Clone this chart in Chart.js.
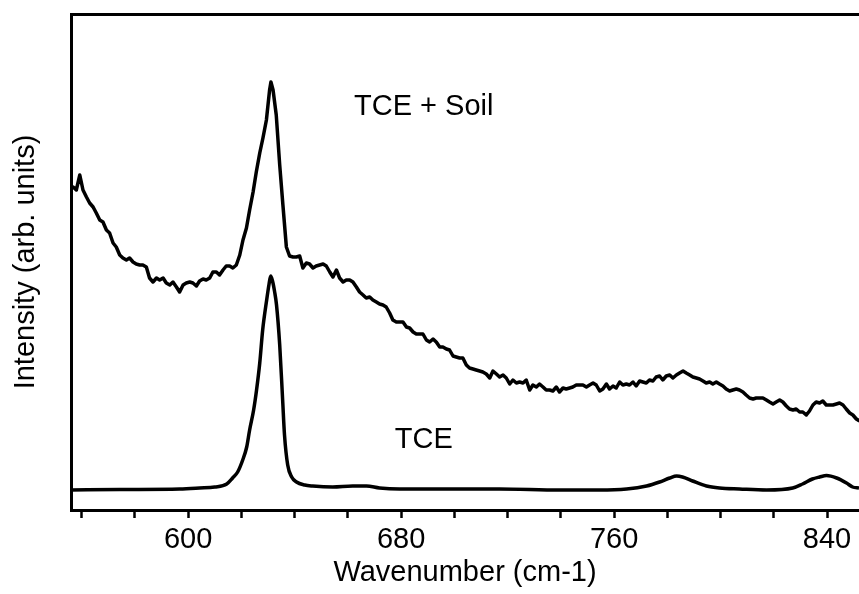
<!DOCTYPE html>
<html>
<head>
<title>TCE Raman spectra</title>
<script src="https://cdn.jsdelivr.net/npm/chart.js"></script>
<style>
  body { margin: 0; background: #fff; overflow: hidden; }
</style>
</head>
<body>
<canvas id="spectrum" width="859" height="594"></canvas>
<script>
// wavenumber (cm-1) and intensity (arb. units)
const soilWn = [
  556.0, 556.8, 558.0, 559.3, 560.5, 561.8, 563.0, 564.3, 565.5, 566.8,
  568.0, 569.3, 570.5, 571.8, 573.0, 574.3, 575.5, 576.8, 578.0, 579.3,
  580.5, 581.8, 583.0, 584.3, 585.5, 586.8, 588.1, 589.3, 590.6, 591.8,
  593.1, 594.3, 595.6, 596.8, 598.1, 599.3, 600.6, 601.8, 603.1, 604.3,
  605.6, 606.8, 608.1, 609.3, 610.6, 611.8, 613.1, 614.3, 615.6, 616.8,
  618.1, 619.4, 620.6, 621.9, 623.1, 624.4, 625.6, 626.9, 628.1, 629.4,
  630.6, 631.1, 631.9, 633.1, 634.4, 635.6, 636.9, 638.1, 639.4, 640.6,
  641.9, 643.1, 644.4, 645.6, 646.9, 648.1, 649.4, 650.7, 651.9, 653.2,
  654.4, 655.7, 656.9, 658.2, 659.4, 660.7, 661.9, 663.2, 664.4, 665.7,
  666.9, 668.2, 669.4, 670.7, 671.9, 673.2, 674.4, 675.7, 676.9, 678.2,
  679.4, 680.7, 682.0, 683.2, 684.5, 685.7, 687.0, 688.2, 689.5, 690.7,
  692.0, 693.2, 694.5, 695.7, 697.0, 698.2, 699.5, 700.7, 702.0, 703.2,
  704.5, 705.7, 707.0, 708.2, 709.5, 710.7, 712.0, 713.3, 714.5, 715.8,
  717.0, 718.3, 719.5, 720.8, 722.0, 723.3, 724.5, 725.8, 727.0, 728.3,
  729.5, 730.8, 732.0, 733.3, 734.5, 735.8, 737.0, 738.3, 739.5, 740.8,
  742.0, 743.3, 744.5, 745.8, 747.0, 748.3, 749.6, 750.8, 752.1, 753.3,
  754.6, 755.8, 757.1, 758.3, 759.6, 760.8, 762.1, 763.3, 764.6, 765.8,
  767.1, 768.3, 769.6, 770.8, 772.1, 773.3, 774.6, 775.8, 777.1, 778.3,
  779.6, 780.9, 782.1, 783.4, 784.6, 785.9, 787.1, 788.4, 789.6, 790.9,
  792.1, 793.4, 794.6, 795.9, 797.1, 798.4, 799.6, 800.9, 802.1, 803.4,
  804.6, 805.9, 807.1, 808.4, 809.6, 810.9, 812.2, 813.4, 814.7, 815.9,
  817.2, 818.4, 819.7, 820.9, 822.2, 823.4, 824.7, 825.9, 827.2, 828.4,
  829.7, 830.9, 832.2, 833.4, 834.7, 835.9, 837.2, 838.4, 839.7, 840.9,
  842.2, 843.5, 844.7, 846.0, 847.2, 848.5, 849.7, 851.0, 852.2
];
const soilInt = [
  64.4, 64.6, 64.0, 67.0, 64.0, 62.6, 61.4, 60.6, 59.4, 58.0,
  57.6, 56.0, 55.4, 53.4, 52.6, 51.0, 50.4, 50.0, 50.4, 49.6,
  49.2, 49.0, 49.0, 48.6, 46.4, 45.6, 46.4, 46.0, 46.4, 45.4,
  45.0, 45.6, 44.6, 43.6, 45.0, 45.4, 45.6, 45.4, 44.8, 45.8,
  46.2, 46.0, 46.4, 47.6, 47.6, 47.0, 48.0, 48.8, 48.8, 48.4,
  49.0, 51.0, 54.0, 56.4, 60.0, 63.6, 67.6, 71.4, 74.4, 78.0,
  84.0, 85.6, 84.0, 79.0, 69.0, 61.0, 52.6, 50.8, 50.6, 50.6,
  50.8, 48.4, 49.4, 49.2, 48.4, 48.8, 49.0, 49.2, 48.8, 47.6,
  46.6, 48.0, 46.4, 45.6, 46.0, 46.0, 45.6, 44.6, 43.6, 43.0,
  42.4, 42.6, 42.0, 41.6, 41.2, 41.0, 40.6, 39.4, 38.0, 37.6,
  37.6, 37.6, 36.6, 36.4, 35.6, 35.2, 35.2, 35.2, 34.0, 33.6,
  34.2, 33.6, 32.6, 32.6, 32.2, 32.0, 30.8, 30.6, 30.4, 30.4,
  29.0, 28.4, 28.2, 28.0, 27.8, 27.6, 27.2, 26.4, 27.8, 27.2,
  26.6, 27.0, 26.4, 25.2, 26.0, 25.4, 25.6, 25.4, 26.0, 24.0,
  25.0, 24.6, 25.2, 24.6, 24.0, 24.0, 23.8, 24.6, 23.6, 24.4,
  24.2, 24.4, 24.6, 25.0, 25.0, 25.0, 24.6, 25.0, 25.4, 25.0,
  23.8, 24.2, 25.2, 24.2, 24.8, 24.4, 25.6, 25.0, 25.2, 25.0,
  25.6, 24.8, 25.8, 25.6, 25.4, 26.0, 25.8, 26.6, 26.8, 26.0,
  26.8, 27.0, 26.4, 27.0, 27.4, 27.8, 27.4, 27.0, 26.6, 26.4,
  26.2, 25.8, 25.4, 25.6, 25.2, 25.6, 25.2, 24.8, 24.2, 23.8,
  24.0, 24.2, 24.0, 23.6, 23.0, 22.4, 22.2, 22.4, 22.4, 22.4,
  22.0, 21.6, 21.2, 21.6, 22.0, 21.6, 20.8, 20.2, 20.0, 20.2,
  19.6, 19.6, 19.0, 19.8, 21.0, 21.6, 21.4, 21.8, 21.0, 21.0,
  21.0, 21.2, 21.4, 21.0, 20.2, 19.4, 19.0, 18.2, 17.8
];

const tceWn = [
  556.0, 574.3, 596.8, 604.3, 610.0, 614.5, 616.7, 618.6, 620.5, 622.0,
  623.1, 624.6, 625.7, 626.9, 628.0, 629.5, 630.4, 631.0, 631.7, 632.5,
  633.2, 634.4, 635.5, 636.2, 637.4, 638.9, 640.7, 643.8, 646.8, 654.3,
  661.8, 667.0, 671.9, 679.4, 694.4, 717.0, 739.5, 754.5, 764.7, 772.2,
  777.1, 780.9, 783.5, 785.7, 789.5, 794.7, 799.6, 807.1, 817.3, 827.1,
  830.8, 834.5, 837.2, 839.8, 843.6, 847.3, 849.6, 852.0
];
const tceInt = [
  4.0, 4.1, 4.2, 4.4, 4.6, 5.2, 6.4, 7.6, 10.0, 12.6,
  16.0, 20.0, 24.0, 29.4, 36.0, 42.0, 45.2, 46.8, 45.8, 43.6,
  41.0, 33.0, 22.0, 15.0, 9.0, 6.6, 5.6, 5.0, 4.8, 4.6,
  4.8, 4.8, 4.4, 4.2, 4.2, 4.2, 4.0, 4.0, 4.2, 4.8,
  5.6, 6.4, 6.8, 6.6, 5.8, 4.8, 4.4, 4.2, 4.0, 4.4,
  5.2, 6.2, 6.6, 6.9, 6.4, 5.4, 4.6, 4.4
];

// axis ticks: minor every 20, labelled every 80
const xTicks = [560, 580, 600, 620, 640, 660, 680, 700, 720, 740, 760, 780, 800, 820, 840];
const xLabelled = [600, 680, 760, 840];

// curve names written inside the plot (anchored in data units)
const curveNames = ['TCE + Soil', 'TCE'];
const nameWn = [688.5, 688.5];
const nameInt = [79.0, 12.4];

const FONT = 'Liberation Sans';
Chart.defaults.font.family = FONT;
Chart.defaults.color = '#000';

function toPoints(xs, ys) {
  return xs.map(function (x, i) { return { x: x, y: ys[i] }; });
}

const curveLabels = {
  id: 'curveLabels',
  afterDatasetsDraw(chart) {
    const ctx = chart.ctx;
    ctx.save();
    ctx.font = '29px "' + FONT + '"';
    ctx.fillStyle = '#000';
    ctx.textAlign = 'center';
    ctx.textBaseline = 'alphabetic';
    curveNames.forEach(function (t, i) {
      ctx.fillText(t, chart.scales.x.getPixelForValue(nameWn[i]), chart.scales.y.getPixelForValue(nameInt[i]));
    });
    ctx.restore();
  }
};

new Chart(document.getElementById('spectrum'), {
  type: 'line',
  data: {
    datasets: [
      {
        label: 'TCE + Soil',
        data: toPoints(soilWn, soilInt),
        borderColor: '#000',
        borderWidth: 3.5,
        pointRadius: 0,
        tension: 0,
        borderJoinStyle: 'round'
      },
      {
        label: 'TCE',
        data: toPoints(tceWn, tceInt),
        borderColor: '#000',
        borderWidth: 3.5,
        pointRadius: 0,
        cubicInterpolationMode: 'monotone'
      }
    ]
  },
  options: {
    responsive: false,
    animation: false,
    devicePixelRatio: 1,
    layout: { padding: 0 },
    plugins: { legend: { display: false }, tooltip: { enabled: false } },
    scales: {
      x: {
        type: 'linear',
        position: 'bottom',
        min: 556,
        max: 852,
        afterBuildTicks: function (scale) {
          scale.ticks = xTicks.map(function (v) { return { value: v }; });
        },
        afterFit: function (scale) { scale.height = 84; },
        ticks: {
          autoSkip: false,
          maxRotation: 0,
          padding: 5,
          font: { size: 29 },
          callback: function (v) { return xLabelled.includes(v) ? String(v) : ''; }
        },
        grid: { display: true, drawOnChartArea: false, drawTicks: true, tickLength: 8, tickWidth: 2.5, color: '#000' },
        border: { display: true, width: 3, color: '#000' },
        title: { display: true, text: 'Wavenumber (cm-1)', font: { size: 29 }, padding: { top: 0, bottom: 4 } }
      },
      top: {
        type: 'linear',
        position: 'top',
        min: 556,
        max: 852,
        afterFit: function (scale) { scale.height = 14; },
        ticks: { display: false },
        grid: { display: false, drawTicks: false },
        border: { display: true, width: 3, color: '#000' }
      },
      y: {
        type: 'linear',
        min: 0,
        max: 99.2,
        afterFit: function (scale) { scale.width = 71; },
        ticks: { display: false },
        grid: { display: false, drawTicks: false },
        border: { display: true, width: 3, color: '#000' },
        title: { display: true, text: 'Intensity (arb. units)', font: { size: 29 }, padding: { top: 9, bottom: 0 } }
      }
    }
  },
  plugins: [curveLabels]
});
</script>
</body>
</html>
